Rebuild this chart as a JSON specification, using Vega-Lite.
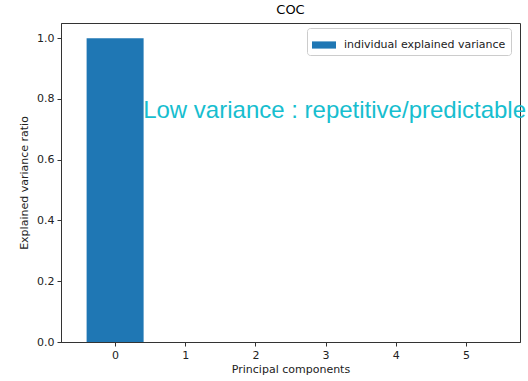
{
  "$schema": "https://vega.github.io/schema/vega-lite/v6.json",
  "width": 459,
  "height": 319,
  "autosize": {"type": "none"},
  "padding": {"left": 61, "top": 23, "right": 8, "bottom": 39},
  "background": "white",
  "title": {"text": "COC", "font": "DejaVu Sans", "fontSize": 13, "fontWeight": "normal", "color": "#000", "offset": 6},
  "config": {
    "view": {"stroke": "#333", "strokeWidth": 1},
    "axis": {
      "grid": false,
      "domainColor": "#333",
      "tickColor": "#333",
      "tickSize": 4,
      "labelFont": "DejaVu Sans",
      "labelFontSize": 11,
      "labelColor": "#222",
      "titleFont": "DejaVu Sans",
      "titleFontSize": 11,
      "titleFontWeight": "normal",
      "titleColor": "#222"
    }
  },
  "layer": [
    {
      "data": {"values": [
        {"pc": 0, "ratio": 0.9999, "series": "individual explained variance"},
        {"pc": 1, "ratio": 0.00005, "series": "individual explained variance"},
        {"pc": 2, "ratio": 0.00003, "series": "individual explained variance"},
        {"pc": 3, "ratio": 0.00001, "series": "individual explained variance"},
        {"pc": 4, "ratio": 0.000005, "series": "individual explained variance"},
        {"pc": 5, "ratio": 0.000002, "series": "individual explained variance"}
      ]},
      "mark": {"type": "bar", "size": 57},
      "encoding": {
        "x": {"field": "pc", "type": "quantitative", "scale": {"domain": [-0.7, 5.7], "nice": false, "zero": false},
              "axis": {"values": [0, 1, 2, 3, 4, 5], "format": "d", "title": "Principal components", "labelPadding": 3, "titlePadding": 3}},
        "y": {"field": "ratio", "type": "quantitative", "scale": {"domain": [0, 1.05], "nice": false},
              "axis": {"values": [0, 0.2, 0.4, 0.6, 0.8, 1.0], "format": ".1f", "title": "Explained variance ratio", "labelPadding": 3, "titlePadding": 7}},
        "color": {"field": "series", "type": "nominal", "scale": {"range": ["#1f77b4"]},
                  "legend": {"title": null, "orient": "none", "legendX": 246, "legendY": 5,
                             "symbolType": "M-1,-0.3H1V0.3H-1Z", "symbolSize": 576, "symbolStrokeWidth": 0,
                             "labelFont": "DejaVu Sans", "labelFontSize": 11, "labelColor": "#222", "labelLimit": 400,
                             "strokeColor": "#ccc", "fillColor": "white", "cornerRadius": 3, "padding": 5, "labelOffset": 8}}
      }
    },
    {
      "data": {"values": [{"x": 0.4, "y": 0.738, "label": "Low variance : repetitive/predictable"}]},
      "mark": {"type": "text", "align": "left", "baseline": "alphabetic", "font": "Liberation Sans", "fontSize": 24, "color": "#17becf"},
      "encoding": {
        "x": {"field": "x", "type": "quantitative"},
        "y": {"field": "y", "type": "quantitative"},
        "text": {"field": "label"}
      }
    }
  ]
}
